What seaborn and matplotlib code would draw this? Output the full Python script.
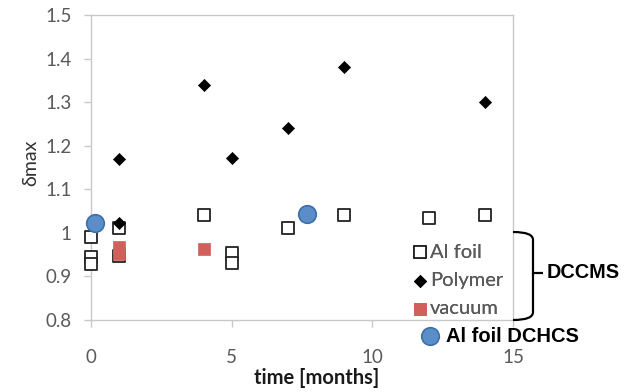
import matplotlib
matplotlib.use("Agg")
import matplotlib.pyplot as plt
import seaborn as sns
import pandas as pd
from matplotlib.path import Path
from matplotlib.patches import PathPatch

# ---- data ----
alfoil_t = [0, 0, 0, 1, 1, 4, 5, 5, 7, 9, 12, 14]
alfoil_v = [0.99, 0.945, 0.928, 1.012, 0.948, 1.042, 0.954, 0.930, 1.012, 1.042, 1.033, 1.042]
polymer_t = [1, 1, 4, 5, 7, 9, 14]
polymer_v = [1.17, 1.022, 1.34, 1.172, 1.24, 1.38, 1.30]
vacuum_t = [1, 1, 4]
vacuum_v = [0.968, 0.952, 0.962]
dchcs_t = [0.15, 7.68]
dchcs_v = [1.023, 1.044]
x_ticks = [0, 5, 10, 15]
y_ticks = [0.8, 0.9, 1.0, 1.1, 1.2, 1.3, 1.4, 1.5]
y_ticklabels = ["0.8", "0.9", "1", "1.1", "1.2", "1.3", "1.4", "1.5"]

sns.set_style("white")
plt.rcParams["font.family"] = ["Lato", "DejaVu Sans"]

fig = plt.figure(figsize=(6.3, 3.92), dpi=100)
ax = fig.add_axes([91/630, 72/392, (513-91)/630, (320-15)/392])

grey = "#595959"
sns.scatterplot(x=alfoil_t, y=alfoil_v, ax=ax, marker="s", s=72, facecolor="white",
                edgecolor="#222222", linewidth=1.3, label="Al foil", zorder=3, clip_on=False)
sns.scatterplot(x=polymer_t, y=polymer_v, ax=ax, marker="D", s=38, color="black",
                edgecolor="black", linewidth=0.5, label="Polymer", zorder=4, clip_on=False)
sns.scatterplot(x=vacuum_t, y=vacuum_v, ax=ax, marker="s", s=72, color="#d0605c",
                edgecolor="#d0605c", linewidth=0.5, label="vacuum", zorder=5, clip_on=False)
sns.scatterplot(x=dchcs_t, y=dchcs_v, ax=ax, marker="o", s=160, color="#5b8dc8",
                edgecolor="#3d6ea6", linewidth=1.2, label="Al foil DCHCS", zorder=6,
                clip_on=False)

ax.set_xlim(0, 15)
ax.set_ylim(0.8, 1.5)
ax.set_xticks(x_ticks)
ax.set_yticks(y_ticks)
ax.set_yticklabels(y_ticklabels)
for sp in ax.spines.values():
    sp.set_color("#c8c8c8")
    sp.set_linewidth(1.0)
ax.tick_params(axis="y", direction="out", length=5, width=1, color="#c8c8c8",
               labelsize=13.5, labelcolor=grey, pad=9, left=True)
ax.tick_params(axis="x", direction="out", length=5, width=1, color="#c8c8c8",
               labelsize=13.5, labelcolor=grey, pad=16, bottom=True)
ax.set_xlabel("time [months]", fontsize=14.5, fontweight="bold", color="#1a1a1a")
ax.xaxis.set_label_coords((317-91)/(513-91), -(378-320)/(320-15), transform=ax.transAxes)
ax.xaxis.label.set_va("center")
ax.set_ylabel("δmax", fontsize=14, color="#333333")
ax.yaxis.set_label_coords(-(91-31)/(513-91), 0.5 + (167.5-163)/305)
ax.yaxis.label.set_va("center")

handles, labels = ax.get_legend_handles_labels()
leg = ax.legend(handles[:3], labels[:3], loc="lower right", bbox_to_anchor=(1.005, -0.03),
                frameon=False, fontsize=14.5, labelcolor=grey, handletextpad=0.05,
                handlelength=0.9, labelspacing=0.55, borderaxespad=0.2)
ax.add_artist(leg)
leg2 = fig.legend(handles[3:], labels[3:], loc="center left", bbox_to_anchor=(402/630, 1-336/392),
                  frameon=False, prop={"family": "Liberation Sans", "weight": "bold", "size": 14.5},
                  handletextpad=0.3, handlelength=1.0)
leg2.get_texts()[0].set_color("black")

# brace
x0, x1 = 513/630, 533/630
ytop, ybot, ymid = 1-232/392, 1-320/392, 1-273/392
xt = 543/630
verts = [(x0, ytop), (x1, ytop), (x1, ytop - 0.02), (x1, ymid + 0.03),
         (x1, ymid), (x1, ymid), (xt, ymid),
         (x1, ymid), (x1, ymid), (x1, ymid - 0.03),
         (x1, ybot + 0.02), (x1, ybot), (x0, ybot)]
codes = [Path.MOVETO, Path.CURVE3, Path.CURVE3, Path.LINETO,
         Path.CURVE3, Path.CURVE3, Path.LINETO,
         Path.MOVETO, Path.CURVE3, Path.CURVE3,
         Path.LINETO, Path.CURVE3, Path.CURVE3]
fig.add_artist(PathPatch(Path(verts, codes), transform=fig.transFigure,
                         fill=False, lw=1.6, color="black"))
fig.text(547/630, ymid, "DCCMS", fontsize=14.3, fontweight="bold", family="Liberation Sans",
         va="center", ha="left", color="black")

fig.savefig("out.png", dpi=100)
